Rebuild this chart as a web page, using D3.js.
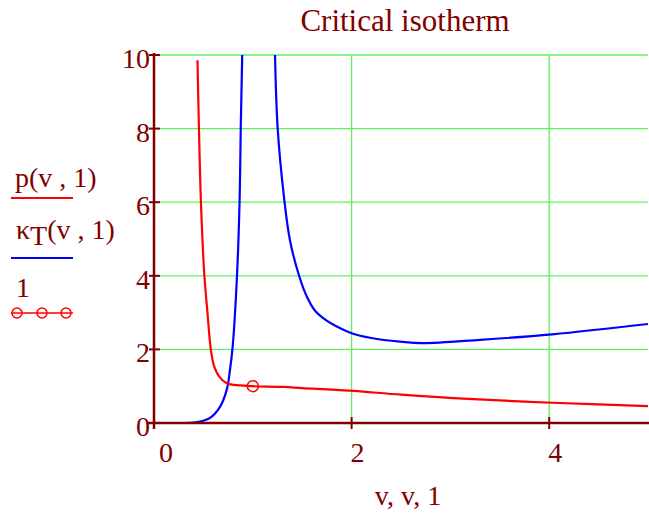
<!DOCTYPE html>
<html>
<head>
<meta charset="utf-8">
<script src="https://cdn.jsdelivr.net/npm/d3@7"></script>
<style>
  body { margin: 0; background: #fff; }
  text { font-family: "Liberation Serif", "Times New Roman", serif; fill: #800000; }
</style>
</head>
<body>
<div id="chart"></div>
<script>
// values
var xTicks = [0, 2, 4];
var yTicks = [0, 2, 4, 6, 8, 10];

// p(v,1)
var pV = [0.440, 0.455, 0.475, 0.51, 0.539, 0.577, 0.61, 0.66, 0.736, 0.87, 1.0, 1.31, 1.5, 1.98, 2.5, 3.13, 4.03, 5.0];
var pY = [9.86, 8.0, 6.0, 4.0, 3.07, 1.96, 1.53, 1.26, 1.08, 1.02, 1.0, 0.98, 0.95, 0.88, 0.77, 0.66, 0.55, 0.46];

// kappa_T(v,1), two branches either side of v = 1
var kLeftV = [0.33, 0.45, 0.567, 0.668, 0.736, 0.769, 0.797, 0.84, 0.866, 0.878, 0.893];
var kLeftY = [0, 0.03, 0.14, 0.44, 0.9, 1.44, 2.1, 4.0, 6.0, 8.0, 10];
var kRightV = [1.225, 1.252, 1.319, 1.377, 1.471, 1.544, 1.63, 1.748, 1.85, 2.0, 2.2, 2.49, 2.726, 3.3, 4.03, 5.0];
var kRightY = [10, 8.0, 6.06, 4.95, 3.98, 3.45, 3.05, 2.78, 2.62, 2.44, 2.31, 2.21, 2.17, 2.26, 2.41, 2.69];

// critical point marker
var markV = [1];
var markY = [1];

var width = 649, height = 516;
var dark = '#800000';

var svg = d3.select('#chart').append('svg')
  .attr('width', width)
  .attr('height', height);

var x = d3.scaleLinear().domain([0, 5]).range([154, 648]);
var y = d3.scaleLinear().domain([0, 10]).range([423, 55]);

// title
svg.append('text')
  .attr('x', 405)
  .attr('y', 31)
  .attr('text-anchor', 'middle')
  .style('font-size', '31px')
  .text('Critical isotherm');

// grid
svg.append('g').selectAll('line.h')
  .data(yTicks.filter(function(d) { return d > 0; }))
  .enter().append('line')
  .attr('x1', x(0)).attr('x2', x(5))
  .attr('y1', function(d) { return y(d); })
  .attr('y2', function(d) { return y(d); })
  .style('stroke', '#5ef05e')
  .style('stroke-width', 1.3);
svg.append('g').selectAll('line.v')
  .data(xTicks.filter(function(d) { return d > 0; }))
  .enter().append('line')
  .attr('x1', function(d) { return x(d); })
  .attr('x2', function(d) { return x(d); })
  .attr('y1', y(10)).attr('y2', y(0))
  .style('stroke', '#5ef05e')
  .style('stroke-width', 1.3);

svg.append('defs').append('clipPath').attr('id', 'plot')
  .append('rect').attr('x', x(0)).attr('y', y(10))
  .attr('width', x(5) - x(0)).attr('height', y(0) - y(10));

var line = d3.line()
  .x(function(d) { return x(d[0]); })
  .y(function(d) { return y(d[1]); })
  .curve(d3.curveCatmullRom.alpha(0.5));

function pairs(a, b) { return a.map(function(v, i) { return [v, b[i]]; }); }

var plot = svg.append('g').attr('clip-path', 'url(#plot)');

plot.append('path')
  .attr('d', line(pairs(kLeftV, kLeftY)))
  .style('fill', 'none').style('stroke', '#0000ff').style('stroke-width', 2.2);
plot.append('path')
  .attr('d', line(pairs(kRightV, kRightY)))
  .style('fill', 'none').style('stroke', '#0000ff').style('stroke-width', 2.2);
plot.append('path')
  .attr('d', line(pairs(pV, pY)))
  .style('fill', 'none').style('stroke', '#ff0000').style('stroke-width', 2.2);

svg.selectAll('circle.mark')
  .data(pairs(markV, markY))
  .enter().append('circle')
  .attr('cx', function(d) { return x(d[0]); })
  .attr('cy', function(d) { return y(d[1]); })
  .attr('r', 5.5)
  .style('fill', 'none').style('stroke', '#ff0000').style('stroke-width', 1.5);

// axes
svg.append('line')
  .attr('x1', x(0)).attr('x2', x(0))
  .attr('y1', y(10) - 2).attr('y2', y(0) + 6)
  .style('stroke', dark).style('stroke-width', 2.5);
svg.append('line')
  .attr('x1', x(0) - 7).attr('x2', x(5) + 2)
  .attr('y1', y(0)).attr('y2', y(0))
  .style('stroke', dark).style('stroke-width', 2.5);

svg.append('g').selectAll('line')
  .data(yTicks)
  .enter().append('line')
  .attr('x1', x(0) - 5).attr('x2', x(0) + 6)
  .attr('y1', function(d) { return y(d); })
  .attr('y2', function(d) { return y(d); })
  .style('stroke', dark).style('stroke-width', 2);
svg.append('g').selectAll('line')
  .data(xTicks)
  .enter().append('line')
  .attr('x1', function(d) { return x(d); })
  .attr('x2', function(d) { return x(d); })
  .attr('y1', y(0) - 6).attr('y2', y(0) + 6)
  .style('stroke', dark).style('stroke-width', 2);

svg.append('g').selectAll('text')
  .data(yTicks)
  .enter().append('text')
  .attr('x', x(0) - 4)
  .attr('y', function(d) { return y(d) + 13; })
  .attr('text-anchor', 'end')
  .style('font-size', '28px')
  .text(function(d) { return d; });
svg.append('g').selectAll('text')
  .data(xTicks)
  .enter().append('text')
  .attr('x', function(d) { return x(d) + (d === 0 ? 12 : 6); })
  .attr('y', 462)
  .attr('text-anchor', 'middle')
  .style('font-size', '28px')
  .text(function(d) { return d; });

svg.append('text')
  .attr('x', 408)
  .attr('y', 505)
  .attr('text-anchor', 'middle')
  .style('font-size', '28px')
  .text('v, v, 1');

// legend
var legend = svg.append('g');
legend.append('text').attr('x', 15).attr('y', 187)
  .style('font-size', '28px').text('p(v , 1)');
legend.append('line').attr('x1', 11).attr('x2', 73).attr('y1', 198).attr('y2', 198)
  .style('stroke', '#ff0000').style('stroke-width', 2);

var kt = legend.append('text').attr('x', 16).attr('y', 239).style('font-size', '28px');
kt.append('tspan').text('κ');
kt.append('tspan').attr('dy', 6).text('T');
kt.append('tspan').attr('dy', -6).text('(v , 1)');
legend.append('line').attr('x1', 11).attr('x2', 73).attr('y1', 258).attr('y2', 258)
  .style('stroke', '#0000ff').style('stroke-width', 2);

legend.append('text').attr('x', 16).attr('y', 297)
  .style('font-size', '28px').text('1');
legend.append('line').attr('x1', 11).attr('x2', 73).attr('y1', 313).attr('y2', 313)
  .style('stroke', '#ff0000').style('stroke-width', 1.5);
legend.selectAll('circle')
  .data([17, 42, 66])
  .enter().append('circle')
  .attr('cx', function(d) { return d; })
  .attr('cy', 313)
  .attr('r', 5)
  .style('fill', 'none').style('stroke', '#ff0000').style('stroke-width', 1.5);
</script>
</body>
</html>
